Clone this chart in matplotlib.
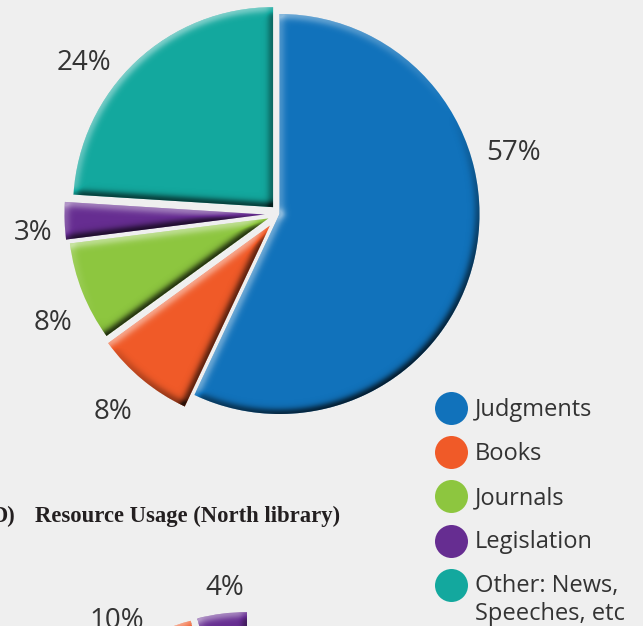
import numpy as np
import matplotlib
matplotlib.use("Agg")
import matplotlib.pyplot as plt

# ---- data -------------------------------------------------------------
categories = ["Judgments", "Books", "Journals", "Legislation",
              "Other: News,\nSpeeches, etc"]
usage_main = [57, 8, 8, 3, 24]
colors = ["#1172bb", "#f05a28", "#8dc63f", "#662d91", "#13a89e"]

# North library chart (only its top edge falls inside the figure)
north_categories = ["Judgments", "Books", "Legislation"]
usage_north = [86, 10, 4]
north_colors = ["#1172bb", "#f05a28", "#662d91"]

# ---- layout (pixel units, y measured from the top) ---------------------
W, H = 643, 626
BG = "#efefef"
TEXT = "#333333"
R = 200
main_center = (279.5, 214)
main_explode = [0.0, 15, 12, 15, 9.4]
main_label_pos = [(513, 160), (113, 419), (53, 330), (33, 240), (84, 70)]

north_center = (249, 828)
north_explode = [0.0, 16, 16]
north_label_pos = [(None, None), (117, 628), (225, 595)]

legend_x, legend_y0, legend_dy = 450.5, 408, 44.2
legend_text_x = 475
line_step = 27.5


def to_data(y):
    return H - y


fig = plt.figure(figsize=(W / 100, H / 100), dpi=100, facecolor=BG)
ax = fig.add_axes([0, 0, 1, 1])
ax.set_facecolor(BG)

wedges_main, _ = ax.pie(usage_main, colors=colors, startangle=90,
                        counterclock=False, radius=R,
                        center=(main_center[0], to_data(main_center[1])),
                        explode=main_explode, wedgeprops=dict(linewidth=0))
wedges_north, _ = ax.pie(usage_north, colors=north_colors, startangle=90,
                         counterclock=False, radius=R,
                         center=(north_center[0], to_data(north_center[1])),
                         explode=north_explode, wedgeprops=dict(linewidth=0))

# ---- bevel shading overlay --------------------------------------------
Y, X = np.mgrid[0:H, 0:W] + 0.5
L = np.array([-0.5, 0.86])
L = L / np.hypot(*L)


def falloff(d, mid=4.5, soft=1.8):
    return 1.0 / (1.0 + np.exp((d - mid) / soft))


def bevel(wedge):
    cx, cy = wedge.center
    r = wedge.r
    t1, t2 = np.radians(wedge.theta1), np.radians(wedge.theta2)
    dx, dy = X - cx, Y - cy
    rho = np.hypot(dx, dy) + 1e-9
    phi = np.arctan2(dy, dx)
    in_ang = np.mod(phi - t1, 2 * np.pi) <= (t2 - t1)
    inside = in_ang & (rho <= r)
    d_arc = np.where(in_ang, np.abs(r - rho), 1e6)

    def seg(t):
        ux, uy = np.cos(t), np.sin(t)
        s = np.clip(dx * ux + dy * uy, 0, r)
        return np.hypot(dx - s * ux, dy - s * uy)

    d1, d2 = seg(t1), seg(t2)
    dist = np.minimum(np.minimum(d_arc, d1), d2)
    cov = np.where(inside, np.clip(0.5 + dist, 0, 1), np.clip(0.5 - dist, 0, 1))

    s_arc = (dx / rho * L[0] + dy / rho * L[1]) * falloff(d_arc)
    s1 = (np.sin(t1) * L[0] - np.cos(t1) * L[1]) * falloff(d1)
    s2 = (-np.sin(t2) * L[0] + np.cos(t2) * L[1]) * falloff(d2)
    s = np.clip(s_arc + s1 + s2, -1, 1)
    alpha = np.where(s > 0, 0.50 * s, 0.82 * -s) * cov
    rgb = np.where(s > 0, 1.0, 0.0)
    return rgb, alpha


prem = np.zeros((H, W, 3))
acc = np.zeros((H, W))
for w in list(wedges_main) + list(wedges_north):
    rgb, a = bevel(w)
    prem = rgb[..., None] * a[..., None] + prem * (1 - a[..., None])
    acc = a + acc * (1 - a)
img = np.zeros((H, W, 4))
img[..., :3] = np.where(acc[..., None] > 0, prem / np.maximum(acc[..., None], 1e-9), 0)
img[..., 3] = acc
ax.imshow(img, extent=(0, W, 0, H), origin="lower", interpolation="nearest", zorder=3)

# ---- percentage labels -------------------------------------------------
label_font = dict(family=["Open Sans", "DejaVu Sans"], fontsize=20, color=TEXT)
for v, (x, y) in zip(usage_main, main_label_pos):
    ax.text(x, to_data(y), f"{v}%", ha="center", va="baseline", zorder=4, **label_font)
for v, (x, y) in zip(usage_north, north_label_pos):
    if x is None:
        continue
    ax.text(x, to_data(y), f"{v}%", ha="center", va="baseline", zorder=4, **label_font)

# ---- legend --------------------------------------------------------------
leg_font = dict(family=["Open Sans", "DejaVu Sans"], fontsize=17, color=TEXT)
for i, (name, c) in enumerate(zip(categories, colors)):
    yc = legend_y0 + i * legend_dy
    ax.scatter([legend_x], [to_data(yc)], s=(33 * 0.72) ** 2, color=c,
               linewidths=0, zorder=4)
    for j, line in enumerate(name.split("\n")):
        ax.text(legend_text_x, to_data(yc + 7.5 + j * line_step), line,
                ha="left", va="baseline", zorder=4, **leg_font)

# ---- chart heading ------------------------------------------------------
title_font = dict(family=["Liberation Serif", "DejaVu Serif"], fontsize=16.3,
                  weight="bold", color="#231f20")
ax.text(15, to_data(522), "D)", ha="right", va="baseline", **title_font)
ax.text(35, to_data(522), "Resource Usage (North library)", ha="left",
        va="baseline", **title_font)

ax.set_xlim(0, W)
ax.set_ylim(0, H)
ax.axis("off")
fig.savefig("out.png", dpi=100, facecolor=BG)
